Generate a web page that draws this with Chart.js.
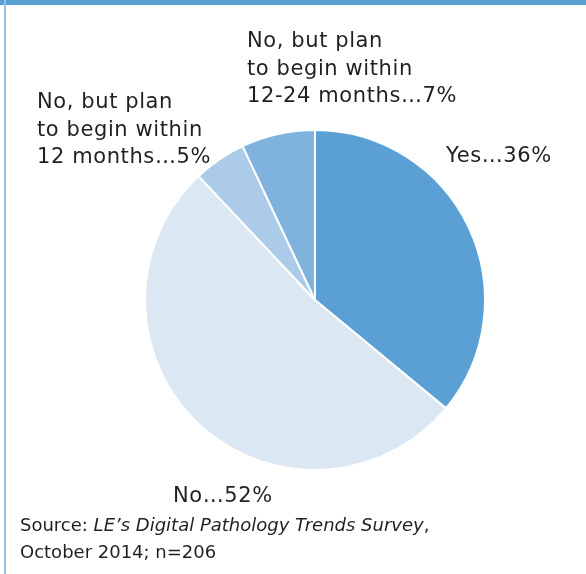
<!DOCTYPE html>
<html>
<head>
<meta charset="utf-8">
<script src="https://cdn.jsdelivr.net/npm/chart.js@4"></script>
<style>
  html, body { margin: 0; padding: 0; background: #fff; }
  #wrap { position: relative; width: 586px; height: 574px; overflow: hidden; }
  #topBar { position: absolute; left: 0; top: 0; width: 586px; height: 5px; background: #5a9fd4; }
  #leftBar { position: absolute; left: 4px; top: 0; width: 2px; height: 574px; background: #8fc2ea; }
  #source { position: absolute; left: 20px; top: 511px; font-family: "DejaVu Sans", sans-serif; font-size: 18px;
            line-height: 27px; color: #231f20; }
  canvas { position: absolute; left: 0; top: 0; }
</style>
</head>
<body>
<div id="wrap">
  <canvas id="pieChart" width="586" height="574"></canvas>
  <div id="topBar"></div>
  <div id="leftBar"></div>
  <div id="source">Source: <i>LE’s Digital Pathology Trends Survey</i>,<br>October 2014; n=206</div>
</div>
<script>
const categories = ["Yes", "No", "No, but plan to begin within 12 months", "No, but plan to begin within 12-24 months"];
const percents = [36, 52, 5, 7];
const sliceColors = ["#5aa0d5", "#dbe7f3", "#abcbe9", "#80b2de"];

// label text lines for each slice, with where to put them
const labelLines = [
  ["Yes…36%"],
  ["No…52%"],
  ["No, but plan", "to begin within", "12 months…5%"],
  ["No, but plan", "to begin within", "12-24 months…7%"]
];
const labelSpots = [
  { x: 446, y: 157 },
  { x: 173, y: 497 },
  { x: 37, y: 103 },
  { x: 247, y: 42 }
];

const sliceLabels = {
  id: "sliceLabels",
  afterDraw(chart) {
    const ctx = chart.ctx;
    ctx.save();
    ctx.font = "21px 'DejaVu Sans', sans-serif";
    ctx.letterSpacing = "0.6px";
    ctx.fillStyle = "#231f20";
    ctx.textAlign = "left";
    ctx.textBaseline = "middle";
    labelLines.forEach((lines, i) => {
      lines.forEach((t, j) => {
        ctx.fillText(t, labelSpots[i].x, labelSpots[i].y + j * 27.5);
      });
    });
    ctx.restore();
  }
};

new Chart(document.getElementById("pieChart").getContext("2d"), {
  type: "pie",
  data: {
    labels: categories,
    datasets: [{
      data: percents,
      backgroundColor: sliceColors,
      borderColor: "#ffffff",
      borderWidth: 2
    }]
  },
  options: {
    responsive: false,
    animation: false,
    layout: { padding: { left: 144, right: 100, top: 129, bottom: 103 } },
    plugins: {
      legend: { display: false },
      tooltip: { enabled: false }
    }
  },
  plugins: [sliceLabels]
});
</script>
</body>
</html>
